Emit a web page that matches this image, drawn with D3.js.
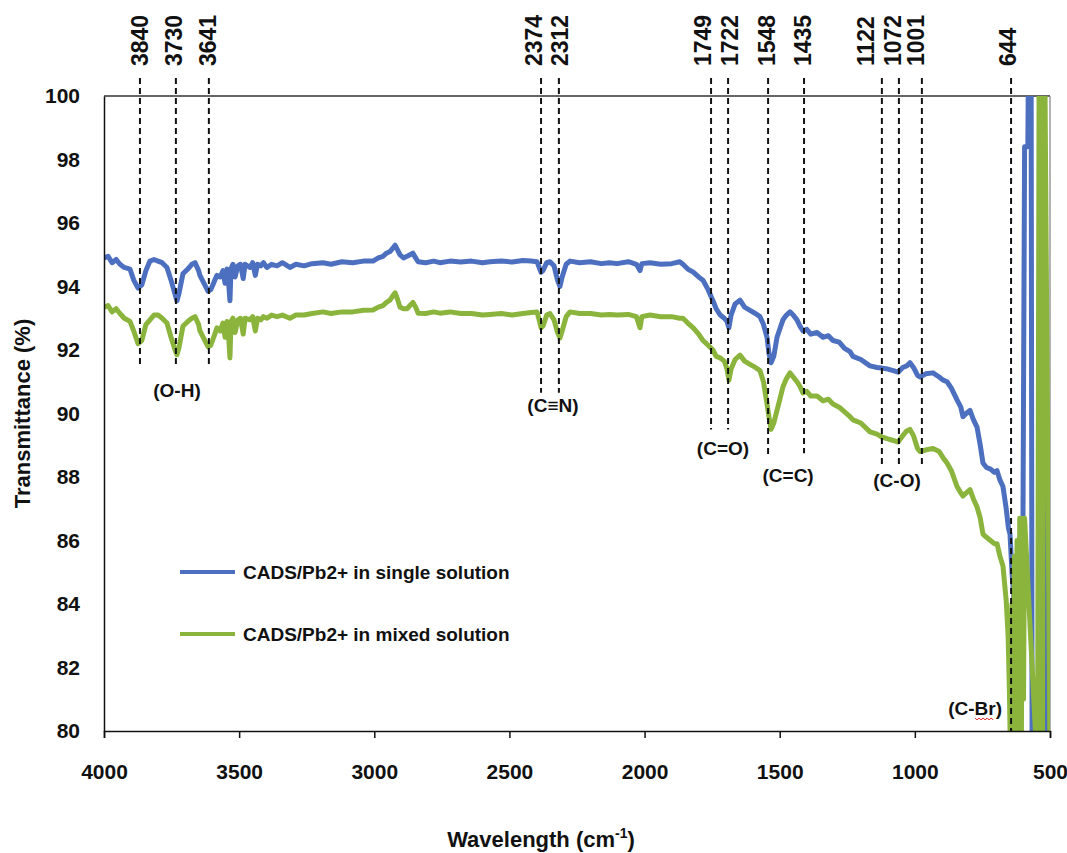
<!DOCTYPE html>
<html>
<head>
<meta charset="utf-8">
<script src="https://cdn.jsdelivr.net/npm/d3@7"></script>
<style>
body { margin: 0; background: #fff; }
text { font-family: "Liberation Sans", Arial, sans-serif; font-weight: bold; fill: #111; }
</style>
</head>
<body>
<svg id="chart" width="1067" height="853"></svg>
<script>
// single solution (blue)
var singleWn = [4000,3985,3970,3955,3941,3925,3904,3890,3874,3860,3845,3830,3815,3800,3785,3767,3752,3737,3730,3722,3708,3690,3675,3663,3650,3645,3630,3615,3605,3590,3582,3570,3560,3552,3545,3538,3534,3530,3523,3515,3505,3495,3485,3478,3460,3450,3440,3432,3420,3410,3397,3380,3360,3340,3312,3290,3260,3230,3190,3160,3120,3080,3040,3005,2985,2968,2955,2942,2932,2923,2914,2905,2892,2879,2868,2857,2847,2838,2810,2780,2757,2720,2680,2640,2600,2572,2530,2490,2450,2420,2398,2390,2383,2376,2362,2350,2335,2322,2313,2305,2290,2276,2240,2200,2160,2130,2102,2060,2030,2017,2010,1980,1940,1900,1870,1858,1840,1820,1800,1784,1765,1747,1735,1720,1705,1695,1688,1680,1665,1647,1630,1610,1590,1573,1560,1547,1540,1532,1522,1510,1498,1488,1475,1462,1450,1436,1425,1414,1400,1385,1362,1340,1320,1303,1280,1260,1240,1229,1200,1166,1140,1122,1100,1080,1062,1045,1030,1018,1005,990,981,960,933,910,895,881,865,844,830,822,810,796,783,770,758,748,735,720,706,696,685,674,662,654,648,640,632,622,612,600,594,582,579,570,566,512,511,508,507,500];
var singleT = [94.9,94.95,94.75,94.85,94.7,94.6,94.55,94.2,93.95,94.05,94.5,94.8,94.85,94.8,94.75,94.6,94.2,93.75,93.55,93.8,94.4,94.55,94.7,94.75,94.5,94.35,94.1,93.85,93.9,94.2,94.35,94.3,94.5,94.1,94.55,94.0,93.55,94.55,94.7,94.3,94.65,94.7,94.25,94.7,94.6,94.75,94.35,94.7,94.65,94.75,94.6,94.7,94.65,94.75,94.6,94.7,94.65,94.72,94.75,94.7,94.78,94.75,94.8,94.8,94.9,94.95,95.05,95.1,95.2,95.3,95.15,95.0,94.9,94.95,95.0,95.05,94.9,94.78,94.75,94.8,94.75,94.8,94.77,94.8,94.75,94.78,94.8,94.77,94.82,94.8,94.78,94.6,94.45,94.5,94.75,94.78,94.65,94.2,94.0,94.3,94.7,94.8,94.75,94.78,94.72,94.75,94.72,94.78,94.7,94.5,94.72,94.75,94.7,94.72,94.78,94.7,94.55,94.45,94.3,94.2,93.9,93.55,93.3,93.1,93.0,92.9,92.7,93.1,93.45,93.57,93.35,93.25,93.15,93.05,92.8,92.4,91.9,91.6,91.8,92.4,92.7,92.95,93.1,93.2,93.1,92.95,92.75,92.6,92.65,92.5,92.55,92.4,92.45,92.3,92.25,92.05,91.95,91.8,91.7,91.5,91.45,91.43,91.4,91.35,91.3,91.45,91.5,91.6,91.45,91.2,91.15,91.25,91.28,91.15,91.05,91.0,90.8,90.43,90.2,89.9,90.0,90.1,89.8,89.57,89.0,88.44,88.3,88.25,88.15,88.2,87.9,87.7,87.0,86.4,86.2,84.9,84.0,83.3,84.6,86.5,98.4,98.4,102,102,78,78,89,89,78,78];

// mixed solution (green)
var mixedWn = [4000,3985,3970,3955,3941,3925,3904,3890,3874,3860,3845,3830,3815,3800,3785,3767,3752,3737,3730,3722,3708,3690,3675,3663,3650,3645,3630,3615,3605,3590,3582,3570,3560,3552,3545,3538,3534,3530,3523,3515,3505,3495,3485,3478,3460,3450,3440,3432,3420,3410,3397,3380,3360,3340,3312,3290,3260,3230,3190,3160,3120,3080,3040,3005,2985,2968,2955,2942,2932,2923,2914,2905,2892,2879,2868,2857,2847,2838,2810,2780,2757,2720,2680,2640,2600,2572,2530,2490,2450,2420,2398,2390,2383,2376,2362,2350,2335,2322,2313,2305,2290,2276,2240,2200,2160,2130,2102,2060,2030,2017,2010,1980,1940,1900,1870,1858,1840,1820,1800,1784,1765,1747,1735,1720,1705,1695,1688,1680,1665,1647,1630,1610,1590,1573,1560,1547,1540,1532,1522,1510,1498,1488,1475,1462,1450,1436,1425,1414,1400,1385,1362,1340,1320,1303,1280,1260,1240,1229,1200,1166,1140,1122,1100,1080,1062,1045,1030,1018,1005,990,981,960,933,910,895,881,865,844,830,822,810,796,783,770,758,748,735,720,706,696,685,674,662,655,650,646,641,637,632,627,622,616,612,606,602,598,594,548,546,540,537,530,528,522,520,500];
var mixedT = [93.35,93.4,93.2,93.3,93.15,93.0,92.9,92.6,92.2,92.3,92.8,92.95,93.1,93.1,93.0,92.85,92.4,92.0,91.85,92.1,92.75,92.9,93.0,93.05,92.8,92.6,92.35,92.1,92.15,92.5,92.7,92.6,92.85,92.4,92.9,92.3,91.75,92.9,93.0,92.55,92.95,93.0,92.5,93.0,92.95,93.05,92.6,93.0,92.95,93.05,93.0,93.1,93.05,93.1,93.0,93.1,93.1,93.15,93.2,93.15,93.2,93.2,93.25,93.26,93.35,93.4,93.5,93.57,93.7,93.8,93.6,93.35,93.3,93.3,93.4,93.5,93.35,93.16,93.15,93.2,93.16,93.2,93.15,93.15,93.1,93.12,93.15,93.1,93.15,93.18,93.2,92.95,92.7,92.75,93.1,93.15,92.95,92.55,92.38,92.6,93.05,93.2,93.15,93.15,93.1,93.12,93.1,93.12,93.05,92.7,93.05,93.1,93.05,93.05,93.0,93.0,92.85,92.7,92.5,92.3,92.15,92.0,91.8,91.75,91.65,91.4,91.05,91.4,91.7,91.84,91.65,91.55,91.45,91.35,91.0,90.3,89.9,89.5,89.7,90.1,90.5,90.84,91.1,91.28,91.15,91.0,90.85,90.65,90.7,90.55,90.55,90.4,90.45,90.3,90.2,90.05,89.9,89.8,89.7,89.42,89.35,89.26,89.2,89.15,89.1,89.3,89.45,89.5,89.3,88.9,88.8,88.85,88.9,88.8,88.6,88.44,88.2,87.7,87.5,87.4,87.5,87.6,87.3,87.06,86.7,86.2,86.1,86.0,85.9,85.9,85.5,85.2,84.1,83.0,81.2,79,84,79,85.5,79,86,79,86.7,79.5,86.7,81,86.7,79,79,102,102,79,79,102,102,79,79];

var seriesNames = ["CADS/Pb2+ in single solution", "CADS/Pb2+ in mixed solution"];
var seriesColors = ["#4d6fbf", "#8bb43d"];

// peak markers: label, where the label sits, where the dashed line is drawn, where it ends
var peakLabels = ["3840","3730","3641","2374","2312","1749","1722","1548","1435","1122","1072","1001","644"];
var peakLabelWn = [3867,3741,3617,2409,2313,1784,1684,1547,1414,1181,1081,996,655];
var peakPos = [3867,3734,3612,2383,2317,1754,1691,1543,1410,1122,1059,974,644];
var peakEnd = [91.45,91.45,91.45,90.65,90.65,89.5,89.5,88.6,88.75,88.3,88.3,88.3,80];

var groupNames = ["(O-H)","(C\u2261N)","(C=O)","(C=C)","(C-O)","(C-Br)"];
var groupWn = [3730,2339,1710,1469,1066,777];
var groupT = [90.74,90.27,88.91,88.06,87.9,80.72];

var xTicks = [4000,3500,3000,2500,2000,1500,1000,500];
var yTicks = [80,82,84,86,88,90,92,94,96,98,100];

var svg = d3.select("#chart");
var L = 104, R = 1050, T = 96, B = 731;

var x = d3.scaleLinear().domain([4000, 500]).range([L, R]);
var y = d3.scaleLinear().domain([80, 100]).range([B, T]);

svg.append("defs").append("clipPath").attr("id", "plotclip")
  .append("rect").attr("x", L).attr("y", T).attr("width", R - L).attr("height", B - T);

// frame top / right
svg.append("line").attr("x1", L).attr("x2", R).attr("y1", T).attr("y2", T)
  .attr("stroke", "#333").attr("stroke-width", 1.5);
svg.append("line").attr("x1", R).attr("x2", R).attr("y1", T).attr("y2", B)
  .attr("stroke", "#999").attr("stroke-width", 1.5);

// series
var line = d3.line().x(function(d){ return x(d[0]); }).y(function(d){ return y(d[1]); });
var series = [d3.zip(singleWn, singleT), d3.zip(mixedWn, mixedT)];
svg.append("g").attr("clip-path", "url(#plotclip)")
  .selectAll("path").data(series).join("path")
  .attr("d", line)
  .attr("fill", "none")
  .attr("stroke", function(d, i){ return seriesColors[i]; })
  .attr("stroke-width", 5)
  .attr("stroke-linejoin", "round");

// axes
var xAxis = svg.append("g").attr("transform", "translate(0," + B + ")")
  .call(d3.axisBottom(x).tickValues(xTicks).tickFormat(d3.format("d"))
    .tickSize(7).tickSizeOuter(7).tickPadding(26));
xAxis.selectAll("text").style("font-size", "21px").attr("fill", "#111");
xAxis.select(".domain").attr("stroke", "#111").attr("stroke-width", 1.5);
xAxis.selectAll(".tick line").attr("stroke", "#111").attr("stroke-width", 1.5);

var yAxis = svg.append("g").attr("transform", "translate(" + L + ",0)")
  .call(d3.axisLeft(y).tickValues(yTicks).tickSize(0).tickPadding(24));
yAxis.selectAll("text").style("font-size", "21px").attr("fill", "#111");
yAxis.select(".domain").attr("stroke", "#111").attr("stroke-width", 1.5);

// dashed peak lines + labels
var peaks = svg.append("g");
peakPos.forEach(function(p, i) {
  peaks.append("line")
    .attr("x1", x(p)).attr("x2", x(p))
    .attr("y1", y(100) - 18).attr("y2", y(peakEnd[i]))
    .attr("stroke", "#111").attr("stroke-width", 2)
    .attr("stroke-dasharray", "6,4");
  peaks.append("text")
    .attr("transform", "translate(" + x(peakLabelWn[i]) + ",66) rotate(-90)")
    .attr("dy", "0.36em")
    .style("font-size", "23px")
    .text(peakLabels[i]);
});

groupNames.forEach(function(g, i) {
  var t = peaks.append("text")
    .attr("x", x(groupWn[i])).attr("y", y(groupT[i]))
    .attr("dy", "0.36em").attr("text-anchor", "middle")
    .style("font-size", "19px")
    .text(g);
  if (g === "(C-Br)") {
    // red spell-check squiggle under "Br"
    var bb = t.node().getBBox();
    var x0 = bb.x + bb.width * 0.5, x1 = bb.x + bb.width * 0.86, yy = bb.y + bb.height - 1;
    var pts = d3.range(x0, x1 + 0.1, 2).map(function(v, k){ return [v, yy + (k % 2 ? 2 : 0)]; });
    peaks.append("path").attr("d", d3.line()(pts))
      .attr("fill", "none").attr("stroke", "#e02020").attr("stroke-width", 1);
  }
});

// legend
var legend = svg.append("g");
seriesNames.forEach(function(n, i) {
  var ly = 572 + i * 62;
  legend.append("line").attr("x1", 180).attr("x2", 235).attr("y1", ly).attr("y2", ly)
    .attr("stroke", seriesColors[i]).attr("stroke-width", 4);
  legend.append("text").attr("x", 243).attr("y", ly).attr("dy", "0.36em")
    .style("font-size", "19px").text(n);
});

// axis titles
svg.append("text")
  .attr("transform", "translate(30," + ((T + B) / 2) + ") rotate(-90)")
  .attr("text-anchor", "middle")
  .style("font-size", "22px")
  .text("Transmittance (%)");

var xt = svg.append("text").attr("x", 541).attr("y", 847).attr("text-anchor", "middle")
  .style("font-size", "22px");
xt.append("tspan").text("Wavelength (cm");
xt.append("tspan").attr("dy", -9).style("font-size", "14px").text("-1");
xt.append("tspan").attr("dy", 9).text(")");
</script>
</body>
</html>
